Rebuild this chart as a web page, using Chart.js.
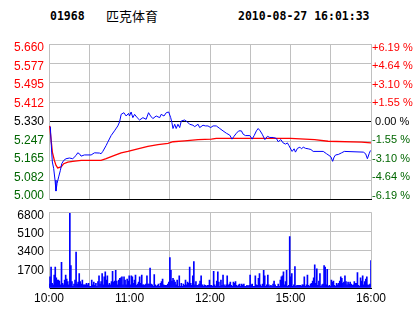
<!DOCTYPE html>
<html>
<head>
<meta charset="utf-8">
<script src="https://cdn.jsdelivr.net/npm/chart.js@4.4.0/dist/chart.umd.min.js"></script>
<style>
  body { margin: 0; background: #fff; }
  #wrap { position: relative; width: 414px; height: 314px; overflow: hidden; background: #fff; }
  canvas { position: absolute; left: 0; }
  .ttl { position: absolute; top: 9px; font: bold 11.5px "DejaVu Sans Mono", monospace; line-height: 14px; color: #000; white-space: nowrap; }
</style>
</head>
<body>
<div id="wrap">
  <div class="ttl" style="left:50px">01968</div>
  <div class="ttl" style="left:106px; top:8px; font:13px 'Noto Sans CJK SC'; line-height:16px">匹克体育</div>
  <div class="ttl" style="left:238px">2010-08-27 16:01:33</div>
  <canvas id="price" width="414" height="212" style="top:0"></canvas>
  <canvas id="vol" width="414" height="114" style="top:200px"></canvas>
</div>
<script>
// x axis = trading minutes after 10:00 (12:00 -> 12:30 and 14:30 -> 16:00 run on)
const timeTicks = [0, 30, 60, 90, 120, 150, 180, 210, 240];
const timeLabels = ["10:00", "", "11:00", "", "12:00", "", "15:00", "", "16:00"];

const priceTicks = [5.000, 5.0825, 5.165, 5.2475, 5.330, 5.4125, 5.495, 5.5775, 5.660];
const priceLabels = ["5.000", "5.082", "5.165", "5.247", "5.330", "5.412", "5.495", "5.577", "5.660"];
const pctLabels = ["-6.19 %", "-4.64 %", "-3.10 %", "-1.55 %", " 0.00 %", "+1.55 %", "+3.10 %", "+4.64 %", "+6.19 %"];
const volTicks = [0, 1700, 3400, 5100, 6800];
const volLabels = ["1700", "3400", "5100", "6800"];

// last price
const priceMinutes = [1, 2, 2.5, 3.5, 4.5, 5.2, 6, 7.2, 8.5, 9.5, 11, 12.7, 15.2, 17.7, 20.2, 21.4, 22.7, 23.9, 26.4, 31.4,
  33.9, 37.6, 38.8, 40.1, 42.6, 43.8, 46.3, 48.8, 51.3, 52.6, 53.8, 55.8, 57.5, 59.3, 60, 61.2, 62.5, 63.8, 65.7, 67.5,
  70, 72.4, 74.2, 75.7, 77.4, 79.9, 82.5, 83.6, 85.7, 87.4, 89.2, 90.7, 91.6, 92.4, 93.7, 94.8, 96.1, 97.4, 98.6, 101.1,
  103.1, 104.8, 107.3, 108.6, 111.1, 112.3, 114.8, 116.5, 118.5, 120.5, 122.3, 124.7, 127.3, 129.7, 132.2, 134.7, 136.4, 137.9, 139.7, 141.4,
  143.4, 144.7, 146.4, 149.7, 151.4, 152.9, 154.6, 155.9, 157.4, 158.9, 160.9, 162.8, 164.6, 167.1, 169.5, 170.8, 172.8, 174.5, 176.3, 177.7,
  178.8, 181.2, 182.7, 183.7, 185.2, 187, 188.2, 189.5, 191.2, 193.2, 195.2, 196.9, 204.4, 206.9, 208.7, 210.2, 211.4, 212.5, 213.6, 215.6,
  218.1, 220.1, 234.3, 236, 237.3, 238.6, 239.6];
const priceValues = [5.310, 5.202, 5.160, 5.132, 5.083, 5.037, 5.069, 5.097, 5.125, 5.153, 5.167, 5.174, 5.177, 5.174, 5.188, 5.199, 5.195, 5.185, 5.190, 5.190,
  5.199, 5.198, 5.195, 5.205, 5.230, 5.244, 5.272, 5.292, 5.313, 5.330, 5.362, 5.369, 5.355, 5.366, 5.355, 5.372, 5.348, 5.362, 5.348, 5.338,
  5.348, 5.341, 5.369, 5.355, 5.344, 5.355, 5.348, 5.362, 5.355, 5.369, 5.372, 5.348, 5.327, 5.302, 5.320, 5.302, 5.320, 5.306, 5.334, 5.338,
  5.330, 5.320, 5.316, 5.310, 5.320, 5.306, 5.316, 5.313, 5.313, 5.306, 5.313, 5.313, 5.302, 5.292, 5.282, 5.274, 5.257, 5.269, 5.282, 5.292,
  5.292, 5.278, 5.272, 5.272, 5.257, 5.272, 5.292, 5.302, 5.292, 5.278, 5.255, 5.269, 5.264, 5.264, 5.260, 5.246, 5.255, 5.241, 5.236, 5.241,
  5.230, 5.205, 5.216, 5.202, 5.218, 5.223, 5.216, 5.223, 5.218, 5.216, 5.213, 5.205, 5.205, 5.195, 5.188, 5.181, 5.163, 5.181, 5.190, 5.192,
  5.199, 5.205, 5.202, 5.195, 5.174, 5.195, 5.209];

// average price
const avgMinutes = [0.5, 1.5, 2.5, 4, 5.2, 6.5, 9, 11, 14, 17.7, 24, 38.8, 42.6, 48.8, 53.8, 58.8, 66.2, 73.7, 81.2, 88.7,
  92.4, 101.1, 111.1, 121, 124.7, 180, 198, 208, 233, 240];
const avgValues = [5.313, 5.257, 5.202, 5.167, 5.146, 5.135, 5.139, 5.153, 5.160, 5.163, 5.167, 5.167, 5.174, 5.188, 5.199, 5.205, 5.216, 5.226, 5.234, 5.239,
  5.246, 5.250, 5.255, 5.257, 5.260, 5.260, 5.255, 5.248, 5.244, 5.241];

// volume, one bar per sample, evenly across the session
const volValues = [350, 1010, 1870, 430, 290, 1150, 1870, 920, 720, 720, 630, 290, 2310, 430, 290, 720, 1150, 810, 580, 290,
  6690, 2020, 580, 140, 350, 720, 3230, 350, 520, 1300, 580, 350, 720, 290, 290, 290, 430, 290, 430, 140,
  140, 720, 290, 520, 230, 430, 140, 580, 1100, 350, 580, 1300, 290, 1010, 1440, 720, 1100, 290, 430, 290,
  580, 1500, 520, 630, 1590, 630, 290, 720, 860, 920, 1010, 290, 1010, 720, 290, 810, 630, 1100, 290, 1100,
  1010, 430, 720, 1150, 230, 350, 520,
  1010, 430, 1150, 290, 290, 230, 350, 1100, 350, 350, 1790, 350, 290, 140, 1210, 290, 140, 230, 350, 140,
  430, 580, 810, 290, 230, 230, 230, 350, 520, 2740, 1590, 630, 860, 720, 520, 290, 720, 140, 1100, 140,
  430, 140, 350, 230, 720, 290, 520, 430, 1870, 430, 230, 1100, 2360, 290, 580, 230, 230, 350, 630, 1100,
  290, 140, 290, 230, 140, 230, 230, 720, 230, 230, 140, 1500, 290, 140, 630, 1440, 520, 140, 720, 230,
  1150, 290, 140, 290, 1100, 230, 350, 520, 230, 140, 520, 430, 580, 230, 140, 290, 350, 140, 350, 230,
  350, 140, 140, 230, 140, 230, 1150, 290, 350, 140, 140, 1100, 290, 230, 860, 1300, 290, 140, 350, 1590,
  1100, 140, 290, 1150, 290, 140, 230, 140, 350, 630, 290, 140, 140, 350, 140, 720, 1010, 1100, 1440, 290,
  580, 1590,
  140, 230, 4610, 1010, 1300, 140, 290, 1930, 140, 230, 230, 230, 230, 140, 290, 290, 1010, 140, 290, 1150,
  230, 140, 350, 430, 630, 920, 2080, 430, 1730, 230, 630, 1300, 140, 290, 350, 2020, 1870, 290, 1670, 140,
  230, 140, 720, 520, 630, 230, 140, 430, 290, 430, 630, 1010, 860, 430, 520, 1100, 580, 290, 520, 350,
  520, 350, 230, 290, 580, 430, 430, 1380, 230, 140, 920, 630, 1100, 290, 580, 810, 1010, 290, 230, 350, 2450];

const GRID = "#c0c0c0";
const labelFont = { family: "Liberation Sans", size: 12 };
const pctFont = { family: "Liberation Sans", size: 11 };

Chart.defaults.animation = false;
Chart.defaults.plugins.legend.display = false;
Chart.defaults.plugins.tooltip.enabled = false;

const setTicks = vals => scale => { scale.ticks = vals.map(v => ({ value: v })); };

// price chart
new Chart(document.getElementById("price"), {
  type: "line",
  data: {
    datasets: [
      {
        data: priceMinutes.map((m, i) => ({ x: m, y: priceValues[i] })),
        borderColor: "#0000ff", borderWidth: 1, pointRadius: 0, tension: 0
      },
      {
        data: avgMinutes.map((m, i) => ({ x: m, y: avgValues[i] })),
        borderColor: "#ff0000", borderWidth: 1.3, pointRadius: 0, tension: 0
      }
    ]
  },
  options: {
    responsive: false,
    layout: { padding: { top: 44, bottom: 9, left: 0, right: 0 } },
    scales: {
      x: {
        type: "linear", min: 0, max: 240,
        afterBuildTicks: setTicks(timeTicks),
        afterFit: s => { s.height = 0; },
        ticks: { display: false },
        grid: { color: GRID, drawTicks: false },
        border: { color: "#000" }
      },
      y: {
        position: "left", weight: 0, min: 5.0, max: 5.66,
        afterBuildTicks: setTicks(priceTicks),
        afterFit: s => { s.width = 0; },
        ticks: { display: false },
        grid: {
          drawTicks: false,
          color: c => (c.tick && (c.tick.value === 5.33 || c.tick.value === 5.0)) ? "#000" : GRID
        },
        border: { color: GRID }
      },
      yl: {
        position: "left", weight: 1, min: -0.212, max: 8.212,
        afterBuildTicks: setTicks([0, 1, 2, 3, 4, 5, 6, 7, 8]),
        afterFit: s => { s.width = 49; },
        ticks: {
          font: labelFont, padding: 5,
          callback: (v, i) => priceLabels[i],
          color: c => c.index > 4 ? "#ff0000" : (c.index === 4 ? "#000000" : "#006600")
        },
        grid: { display: false, drawTicks: false },
        border: { display: false }
      },
      yr: {
        position: "right", min: -0.212, max: 8.212,
        afterBuildTicks: setTicks([0, 1, 2, 3, 4, 5, 6, 7, 8]),
        afterFit: s => { s.width = 43; },
        ticks: {
          font: pctFont, padding: 1,
          callback: (v, i) => pctLabels[i],
          color: c => c.index > 4 ? "#ff0000" : (c.index === 4 ? "#000000" : "#006600")
        },
        grid: { display: false, drawTicks: false },
        border: { display: false }
      }
    }
  }
});

// volume chart
const volStep = 240 / (volValues.length - 1);
new Chart(document.getElementById("vol"), {
  type: "bar",
  data: {
    datasets: [{
      data: volValues.map((v, i) => ({ x: i * volStep, y: v })),
      backgroundColor: "#0000ff",
      barThickness: 1
    }]
  },
  options: {
    responsive: false,
    layout: { padding: { top: 10, bottom: 0, left: 0, right: 43 } },
    scales: {
      x: {
        type: "linear", min: 0, max: 240, offset: false,
        afterBuildTicks: setTicks(timeTicks),
        afterFit: s => { s.height = 26; },
        ticks: {
          font: labelFont, color: "#000", padding: 3,
          autoSkip: false, maxRotation: 0,
          callback: (v, i) => timeLabels[i]
        },
        grid: { color: GRID, drawTicks: false, offset: false },
        border: { color: "#000" }
      },
      y: {
        position: "left", weight: 0, min: 0, max: 6800,
        afterBuildTicks: setTicks(volTicks),
        afterFit: s => { s.width = 0; },
        ticks: { display: false },
        grid: { drawTicks: false, color: c => (c.tick && c.tick.value === 0) ? "#000" : GRID },
        border: { color: GRID }
      },
      yl: {
        position: "left", weight: 1, min: 0.04, max: 4.17,
        afterBuildTicks: setTicks([1, 2, 3, 4]),
        afterFit: s => { s.width = 49; },
        ticks: { font: labelFont, color: "#000", padding: 5, callback: (v, i) => volLabels[i] },
        grid: { display: false, drawTicks: false },
        border: { display: false }
      }
    }
  }
});
</script>
</body>
</html>
